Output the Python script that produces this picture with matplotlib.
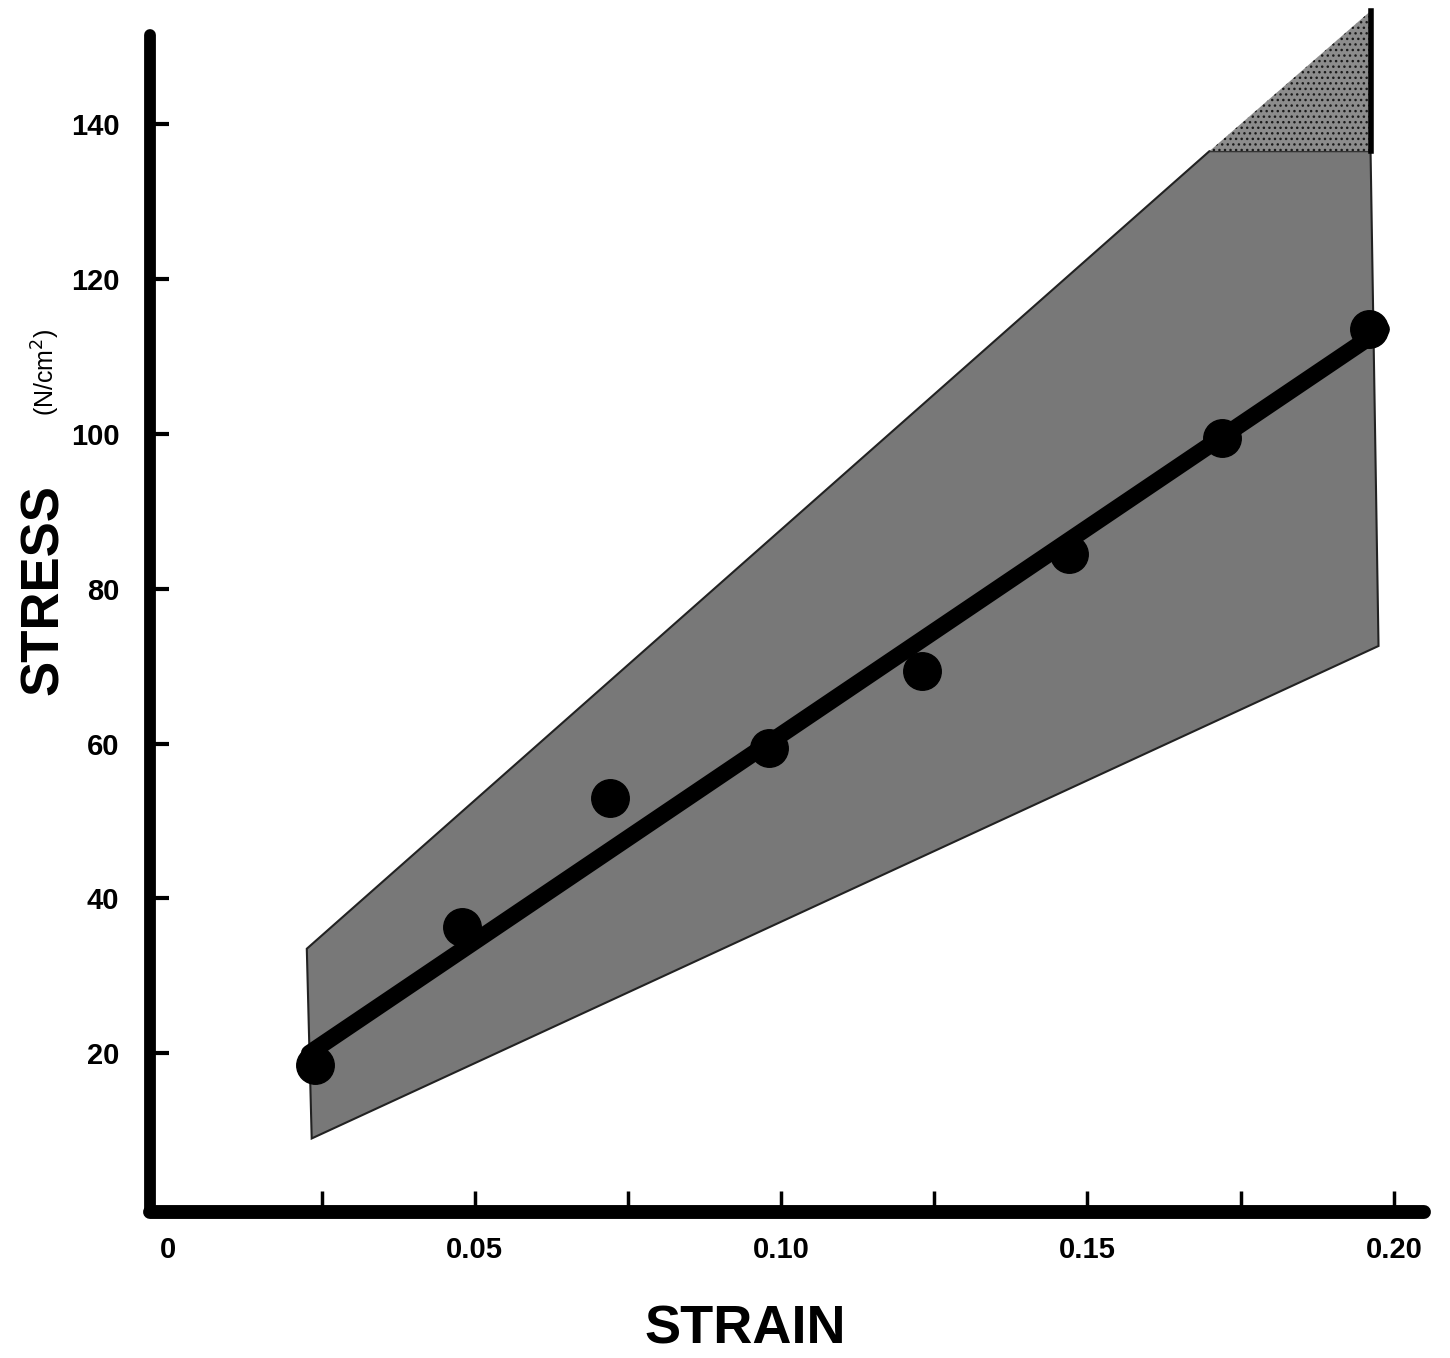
"""Stress-strain plot with scatter band, redrawn from a scanned figure."""

import matplotlib
matplotlib.use("Agg")
import matplotlib.pyplot as plt

plt.rcParams["font.family"] = ["Liberation Sans", "DejaVu Sans"]
plt.rcParams["hatch.linewidth"] = 1.0

# measured points
strain = [0.024, 0.048, 0.072, 0.098, 0.123, 0.147, 0.172, 0.196]
stress = [18.5, 36.3, 53.0, 59.4, 69.4, 84.5, 99.5, 113.5]

# fitted line end points
fit_strain = [0.023, 0.198]
fit_stress = [20.0, 113.5]

# scatter band outline (lower part) and the dotted cap above 136.5
band_strain = [0.0226, 0.1699, 0.1962, 0.1975, 0.0234]
band_stress = [33.5, 136.5, 136.5, 72.6, 9.0]
cap_strain = [0.1699, 0.1962, 0.1962]
cap_stress = [136.5, 154.6, 136.5]

x_major = [0, 0.05, 0.10, 0.15, 0.20]
x_labels = ["0", "0.05", "0.10", "0.15", "0.20"]
x_minor = [0.025, 0.075, 0.125, 0.175]
y_ticks = [20, 40, 60, 80, 100, 120, 140]

fig = plt.figure(figsize=(14.5, 13.58), dpi=100)
ax = fig.add_axes([0.1034, 0.1075, 0.879, 0.8667])

ax.fill(band_strain, band_stress, facecolor="#787878", edgecolor="#222222",
        linewidth=1.5, zorder=1)
ax.fill(cap_strain, cap_stress, facecolor="#8c8c8c", edgecolor="#1a1a1a",
        hatch="...", linewidth=0, zorder=1, clip_on=False)
ax.plot(cap_strain[1:], cap_stress[1:], color="black", linewidth=4, zorder=2,
        clip_on=False)

ax.plot(fit_strain, fit_stress, color="black", linewidth=12, solid_capstyle="round",
        zorder=3)
ax.plot(strain, stress, "o", color="black", markersize=27, zorder=4)

ax.set_xlim(-0.003, 0.205)
ax.set_ylim(-0.5, 151.5)

for side in ("top", "right"):
    ax.spines[side].set_visible(False)
ax.spines["left"].set_linewidth(8.5)
ax.spines["bottom"].set_linewidth(10)
ax.spines["left"].set_capstyle("round")
ax.spines["bottom"].set_capstyle("round")

ax.set_xticks(x_major)
ax.set_xticklabels(x_labels)
ax.set_xticks(x_minor, minor=True)
ax.set_yticks(y_ticks)
ax.tick_params(axis="x", which="both", direction="in", length=15, width=2.5,
               pad=17, labelsize=21)
ax.tick_params(axis="y", direction="in", length=14, width=3, pad=22, labelsize=21)
ax.xaxis.get_major_ticks()[0].tick1line.set_visible(False)
for lab in ax.get_xticklabels() + ax.get_yticklabels():
    lab.set_fontweight("bold")

fig.text(745 / 1450, 1 - 1330 / 1358, "STRAIN", fontsize=39, fontweight="bold",
         ha="center", va="center")
fig.text(44 / 1450, 1 - 590 / 1358, "STRESS", fontsize=38, fontweight="bold",
         rotation=90, ha="center", va="center")
fig.text(46 / 1450, 1 - 372 / 1358, "(N/cm$^2$)", fontsize=18, rotation=90,
         ha="center", va="center")

fig.savefig("out.png", dpi=100, facecolor="white")
